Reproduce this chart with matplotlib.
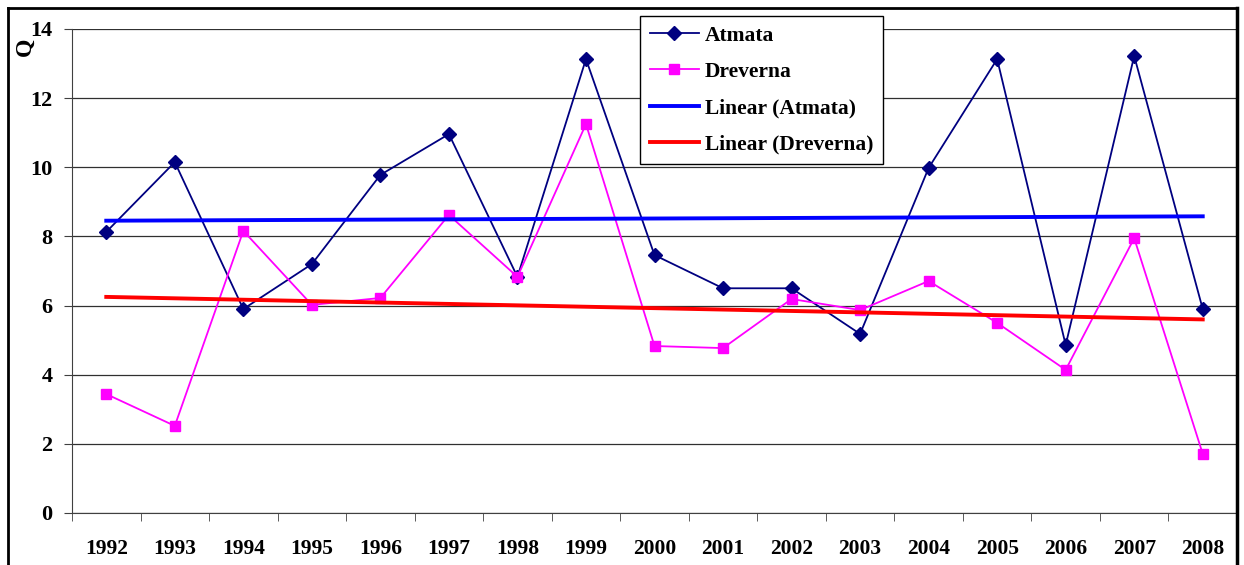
import numpy as np
import matplotlib
matplotlib.use("Agg")
import matplotlib.pyplot as plt
from matplotlib.lines import Line2D

years = [str(y) for y in range(1992, 2009)]
atmata = [8.13, 10.15, 5.9, 7.2, 9.78, 10.96, 6.83, 13.13, 7.46, 6.5,
          6.5, 5.18, 9.98, 13.13, 4.86, 13.22, 5.9]
dreverna = [3.44, 2.52, 8.16, 6.02, 6.22, 8.62, 6.83, 11.25, 4.83, 4.77,
            6.19, 5.87, 6.71, 5.5, 4.14, 7.95, 1.71]

plt.rcParams['font.family'] = ['Liberation Serif', 'DejaVu Serif']
plt.rcParams['font.weight'] = 'bold'

fig = plt.figure(figsize=(12.44, 5.65), dpi=100)
ax = fig.add_axes([72 / 1244, 1 - 513 / 565, 1165 / 1244, 484 / 565])

x = np.arange(len(years))
ax.plot(x, atmata, color='#000080', lw=1.3, marker='D', ms=7, label='Atmata')
ax.plot(x, dreverna, color='#FF00FF', lw=1.3, marker='s', ms=7, label='Dreverna')

# linear trends
for vals, col, name in [(atmata, '#0000FF', 'Linear (Atmata)'),
                        (dreverna, '#FF0000', 'Linear (Dreverna)')]:
    k, b = np.polyfit(x, vals, 1)
    ax.plot(x, k * x + b, color=col, lw=2.8, label=name)

ax.set_xlim(-0.5, len(years) - 0.5)
ax.set_ylim(0, 14)
ax.set_yticks(range(0, 15, 2))
ax.yaxis.grid(True, color='#303030', lw=0.9)
ax.set_axisbelow(True)

ax.set_xticks(x)
ax.set_xticklabels(years, fontsize=15.5, fontweight='bold')
ax.set_xticks(np.arange(-0.5, len(years), 1), minor=True)
ax.tick_params(axis='x', which='major', length=0, pad=19)
ax.tick_params(axis='x', which='minor', length=6, direction='out', color='#404040')
ax.tick_params(axis='y', length=6, direction='out', labelsize=16, color='#404040', pad=8)
for lab in ax.get_yticklabels():
    lab.set_fontweight('bold')

ax.spines['top'].set_visible(False)
ax.spines['right'].set_visible(False)
ax.spines['left'].set_color('#404040')
ax.spines['bottom'].set_color('#404040')

fig.text(25 / 1244, 1 - 47 / 565, 'Q', rotation=90, fontsize=17,
         fontweight='bold', ha='center', va='center')

# outer chart border
fig.add_artist(Line2D([8 / 1244, 8 / 1244], [0, 1 - 8 / 565], color='black', lw=2))
fig.add_artist(Line2D([8 / 1244, 1237 / 1244], [1 - 8 / 565, 1 - 8 / 565], color='black', lw=2))
fig.add_artist(Line2D([1237 / 1244, 1237 / 1244], [0, 1 - 8 / 565], color='black', lw=2.5))

leg = ax.legend(loc='upper left', bbox_to_anchor=(640 / 1244, 1 - 16 / 565),
                bbox_transform=fig.transFigure, fancybox=False, framealpha=1,
                edgecolor='black', prop={'size': 15.5, 'weight': 'bold'},
                handlelength=2.3, labelspacing=0.75, borderpad=0.45,
                handletextpad=0.25, borderaxespad=0)
leg.get_frame().set_linewidth(1.0)
leg.set_zorder(5)

fig.savefig('out.png', dpi=100)
